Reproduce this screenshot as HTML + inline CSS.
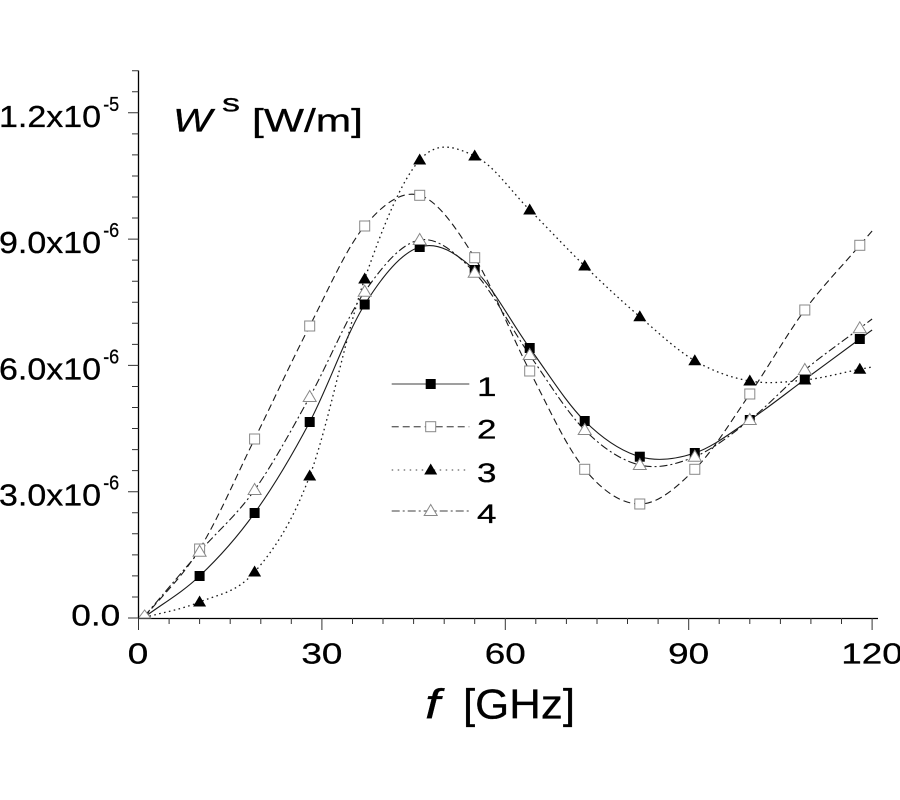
<!DOCTYPE html>
<html><head><meta charset="utf-8">
<style>
html,body{margin:0;padding:0;background:#fff;}
svg{display:block;}
text{font-family:"Liberation Sans",Arial,sans-serif;fill:#000;stroke:#000;stroke-width:0.3px;}
</style></head>
<body>
<svg id="s" width="900" height="800" viewBox="0 0 900 800" xmlns="http://www.w3.org/2000/svg">
<rect width="900" height="800" fill="#fff"/>
<defs><clipPath id="c"><rect x="139" y="60" width="740" height="558.5"/></clipPath></defs>

<g id="lines" clip-path="url(#c)" fill="none" stroke="#1a1a1a" stroke-width="1.1">
<polyline id="l1" points="144.6,617 199.6,576 254.6,513 309.7,422 364.7,304.5 419.7,247 474.7,270 529.7,348 584.7,421 639.8,456.7 694.8,453 749.8,420 804.8,379.5 859.8,339 872.1,330"/>
<polyline id="l2" stroke-dasharray="7 4" points="144.6,617 199.6,549 254.6,439 309.7,326 364.7,226 419.7,195.3 474.7,257.7 529.7,371 584.7,469.3 639.8,504 694.8,469.3 749.8,394 804.8,310 859.8,245.3 872.1,231"/>
<polyline id="l3" stroke-dasharray="1.6 3.4" stroke-width="1.3" points="144.6,617.5 199.6,602 254.6,572 309.7,476 364.7,279 419.7,160 474.7,156 529.7,210 584.7,266 639.8,316.7 694.8,360.7 749.8,381 804.8,380 859.8,369.3 872.1,367"/>
<polyline id="l4" stroke-dasharray="8 3 2 3" points="144.6,616 199.6,551.7 254.6,490 309.7,397 364.7,291.7 419.7,240 474.7,272.7 529.7,355 584.7,430 639.8,465 694.8,456.7 749.8,420 804.8,370 859.8,328.3 872.1,319"/>
</g>

<g stroke="#000" stroke-width="1.3" fill="none">
<path d="M138.5 70.5 V618.5"/>
<path d="M138 618.5 H878"/>
</g>
<g stroke="#333" stroke-width="1" fill="none">
<path d="M128 618 H138.5 M128 491.7 H138.5 M128 365.4 H138.5 M128 239.1 H138.5 M128 112.8 H138.5"/>
<path d="M132 596.95 H138.5 M132 575.9 H138.5 M132 554.85 H138.5 M132 533.8 H138.5 M132 512.75 H138.5 M132 470.65 H138.5 M132 449.6 H138.5 M132 428.55 H138.5 M132 407.5 H138.5 M132 386.45 H138.5 M132 344.35 H138.5 M132 323.3 H138.5 M132 302.25 H138.5 M132 281.2 H138.5 M132 260.15 H138.5 M132 218.05 H138.5 M132 197 H138.5 M132 175.95 H138.5 M132 154.9 H138.5 M132 133.85 H138.5 M132 91.75 H138.5 M132 70.7 H138.5"/>
<path d="M138.5 618 V630 M321.9 618 V630 M505.3 618 V630 M688.7 618 V630 M872.1 618 V630"/>
<path d="M169.1 618 V624 M199.6 618 V624 M230.2 618 V624 M260.8 618 V624 M291.3 618 V624 M352.5 618 V624 M383 618 V624 M413.6 618 V624 M444.2 618 V624 M474.7 618 V624 M535.8 618 V624 M566.4 618 V624 M597 618 V624 M627.5 618 V624 M658.1 618 V624 M719.2 618 V624 M749.8 618 V624 M780.4 618 V624 M810.9 618 V624 M841.5 618 V624"/>
</g>

<g clip-path="url(#c)">
<g fill="#000">
<polygon points="199.6,595.5 193.1,606.5 206.1,606.5"/>
<polygon points="254.6,565.5 248.1,576.5 261.1,576.5"/>
<polygon points="309.7,469.5 303.2,480.5 316.2,480.5"/>
<polygon points="364.7,272.5 358.2,283.5 371.2,283.5"/>
<polygon points="419.7,153.5 413.2,164.5 426.2,164.5"/>
<polygon points="474.7,149.5 468.2,160.5 481.2,160.5"/>
<polygon points="529.7,203.5 523.2,214.5 536.2,214.5"/>
<polygon points="584.7,259.5 578.2,270.5 591.2,270.5"/>
<polygon points="639.8,310.2 633.3,321.2 646.3,321.2"/>
<polygon points="694.8,354.2 688.3,365.2 701.3,365.2"/>
<polygon points="749.8,374.5 743.3,385.5 756.3,385.5"/>
<polygon points="804.8,373.5 798.3,384.5 811.3,384.5"/>
<polygon points="859.8,362.8 853.3,373.8 866.3,373.8"/>
</g>
<g fill="#fff" stroke="#888" stroke-width="1">
<rect x="194.6" y="544" width="10" height="10"/>
<rect x="249.6" y="434" width="10" height="10"/>
<rect x="304.7" y="321" width="10" height="10"/>
<rect x="359.7" y="221" width="10" height="10"/>
<rect x="414.7" y="190.3" width="10" height="10"/>
<rect x="469.7" y="252.7" width="10" height="10"/>
<rect x="524.7" y="366" width="10" height="10"/>
<rect x="579.7" y="464.3" width="10" height="10"/>
<rect x="634.8" y="499" width="10" height="10"/>
<rect x="689.8" y="464.3" width="10" height="10"/>
<rect x="744.8" y="389" width="10" height="10"/>
<rect x="799.8" y="305" width="10" height="10"/>
<rect x="854.8" y="240.3" width="10" height="10"/>
</g>
<g fill="#000">
<rect x="194.6" y="571" width="10" height="10"/>
<rect x="249.6" y="508" width="10" height="10"/>
<rect x="304.7" y="417" width="10" height="10"/>
<rect x="359.7" y="299.5" width="10" height="10"/>
<rect x="414.7" y="242" width="10" height="10"/>
<rect x="469.7" y="265" width="10" height="10"/>
<rect x="524.7" y="343" width="10" height="10"/>
<rect x="579.7" y="416" width="10" height="10"/>
<rect x="634.8" y="451.7" width="10" height="10"/>
<rect x="689.8" y="448" width="10" height="10"/>
<rect x="744.8" y="415" width="10" height="10"/>
<rect x="799.8" y="374.5" width="10" height="10"/>
<rect x="854.8" y="334" width="10" height="10"/>
</g>
<g fill="#fff" stroke="#888" stroke-width="1">
<polygon points="144.6,610 138.6,618 150.6,618"/>
<polygon points="199.6,545.2 193.1,556.2 206.1,556.2"/>
<polygon points="254.6,483.5 248.1,494.5 261.1,494.5"/>
<polygon points="309.7,390.5 303.2,401.5 316.2,401.5"/>
<polygon points="364.7,285.2 358.2,296.2 371.2,296.2"/>
<polygon points="419.7,233.5 413.2,244.5 426.2,244.5"/>
<polygon points="474.7,266.2 468.2,277.2 481.2,277.2"/>
<polygon points="529.7,348.5 523.2,359.5 536.2,359.5"/>
<polygon points="584.7,423.5 578.2,434.5 591.2,434.5"/>
<polygon points="639.8,458.5 633.3,469.5 646.3,469.5"/>
<polygon points="694.8,450.2 688.3,461.2 701.3,461.2"/>
<polygon points="749.8,413.5 743.3,424.5 756.3,424.5"/>
<polygon points="804.8,363.5 798.3,374.5 811.3,374.5"/>
<polygon points="859.8,321.8 853.3,332.8 866.3,332.8"/>
</g>
</g>

<g fill="none" stroke="#666" stroke-width="1.3">
<path d="M391.7 384 H469.3"/>
<path d="M391.7 426.7 H469.3" stroke-dasharray="7 4"/>
<path d="M391.7 470 H469.3" stroke-dasharray="1.5 4.5"/>
<path d="M391.7 511 H469.3" stroke-dasharray="8 3 2 3"/>
</g>
<rect x="425.7" y="379" width="10" height="10" fill="#000"/>
<rect x="425.7" y="421.7" width="10" height="10" fill="#fff" stroke="#888"/>
<polygon points="430.7,463.5 424.2,474.5 437.2,474.5" fill="#000"/>
<polygon points="430.7,504.5 424.2,515.5 437.2,515.5" fill="#fff" stroke="#888"/>
<text x="477" y="396" font-size="27" textLength="19.5" lengthAdjust="spacingAndGlyphs">1</text>
<text x="477" y="438.7" font-size="27" textLength="19.5" lengthAdjust="spacingAndGlyphs">2</text>
<text x="477" y="482" font-size="27" textLength="19.5" lengthAdjust="spacingAndGlyphs">3</text>
<text x="477" y="523" font-size="27" textLength="19.5" lengthAdjust="spacingAndGlyphs">4</text>

<text x="-1" y="126.8" font-size="31" textLength="102" lengthAdjust="spacingAndGlyphs">1.2x10</text>
<text x="103.2" y="110.8" font-size="20" textLength="16" lengthAdjust="spacingAndGlyphs">-5</text>
<text x="-1" y="253.1" font-size="31" textLength="102" lengthAdjust="spacingAndGlyphs">9.0x10</text>
<text x="103.2" y="237.1" font-size="20" textLength="16" lengthAdjust="spacingAndGlyphs">-6</text>
<text x="-1" y="379.4" font-size="31" textLength="102" lengthAdjust="spacingAndGlyphs">6.0x10</text>
<text x="103.2" y="363.4" font-size="20" textLength="16" lengthAdjust="spacingAndGlyphs">-6</text>
<text x="-1" y="505.7" font-size="31" textLength="102" lengthAdjust="spacingAndGlyphs">3.0x10</text>
<text x="103.2" y="489.7" font-size="20" textLength="16" lengthAdjust="spacingAndGlyphs">-6</text>
<text x="71.3" y="625.7" font-size="30" textLength="49" lengthAdjust="spacingAndGlyphs">0.0</text>

<text x="127.75" y="663.3" font-size="29" textLength="20.5" lengthAdjust="spacingAndGlyphs">0</text>
<text x="301.4" y="663.3" font-size="29" textLength="41" lengthAdjust="spacingAndGlyphs">30</text>
<text x="484.8" y="663.3" font-size="29" textLength="41" lengthAdjust="spacingAndGlyphs">60</text>
<text x="668.2" y="663.3" font-size="29" textLength="41" lengthAdjust="spacingAndGlyphs">90</text>
<text x="841.3" y="663.3" font-size="29" textLength="61.5" lengthAdjust="spacingAndGlyphs">120</text>

<text x="173" y="131.7" font-size="32" font-style="italic" textLength="39" lengthAdjust="spacingAndGlyphs">W</text>
<text x="222" y="111.7" font-size="25" textLength="18" lengthAdjust="spacingAndGlyphs">s</text>
<text x="252" y="131.7" font-size="32" textLength="111" lengthAdjust="spacingAndGlyphs">[W/m]</text>
<text x="425" y="718.3" font-size="42" font-style="italic" textLength="15" lengthAdjust="spacingAndGlyphs">f</text>
<text x="463" y="718.3" font-size="42" textLength="112" lengthAdjust="spacingAndGlyphs">[GHz]</text>
</svg>
<script>
(function(){
  var ns="http://www.w3.org/2000/svg";
  ["l1","l2","l3","l4"].forEach(function(id){
    var pl=document.getElementById(id);
    if(!pl) return;
    var raw=pl.getAttribute("points").trim().split(/\s+/).map(function(p){var a=p.split(",");return [parseFloat(a[0]),parseFloat(a[1])];});
    var n=raw.length, m=[];
    for(var i=0;i<n;i++){
      if(i===0) m.push((raw[1][1]-raw[0][1])/(raw[1][0]-raw[0][0]));
      else if(i===n-1) m.push((raw[n-1][1]-raw[n-2][1])/(raw[n-1][0]-raw[n-2][0]));
      else m.push((raw[i+1][1]-raw[i-1][1])/(raw[i+1][0]-raw[i-1][0]));
    }
    var d="M"+raw[0][0]+" "+raw[0][1];
    for(var j=0;j<n-1;j++){
      var h=raw[j+1][0]-raw[j][0];
      var c1x=raw[j][0]+h/3, c1y=raw[j][1]+m[j]*h/3;
      var c2x=raw[j+1][0]-h/3, c2y=raw[j+1][1]-m[j+1]*h/3;
      d+=" C"+c1x.toFixed(2)+" "+c1y.toFixed(2)+" "+c2x.toFixed(2)+" "+c2y.toFixed(2)+" "+raw[j+1][0]+" "+raw[j+1][1];
    }
    var p=document.createElementNS(ns,"path");
    p.setAttribute("d",d);
    ["stroke-dasharray","stroke-width"].forEach(function(a){var v=pl.getAttribute(a); if(v) p.setAttribute(a,v);});
    pl.parentNode.replaceChild(p,pl);
  });
})();
</script>
</body></html>
